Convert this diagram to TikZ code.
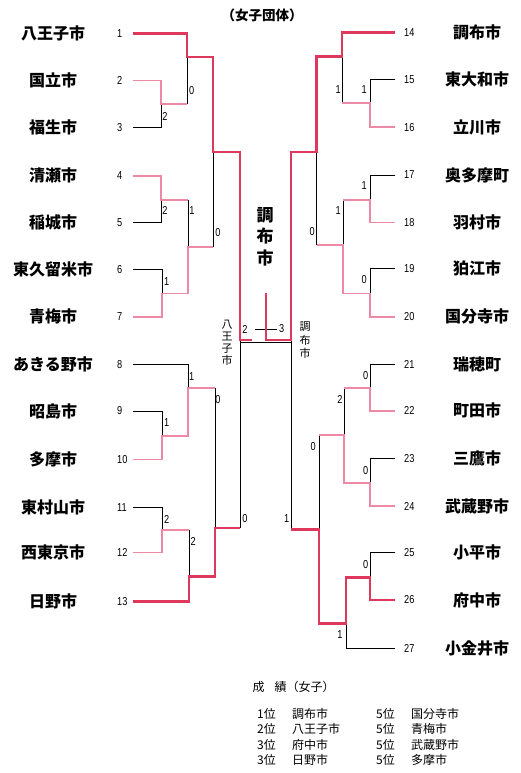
\documentclass[tikz,border=0pt]{standalone}
\usepackage{fontspec}
\setmainfont{Liberation Sans}
\newfontfamily\jp{Noto Sans CJK JP}
\newfontfamily\numf[FakeStretch=0.8]{Liberation Sans}
\definecolor{redc}{RGB}{222,56,92}
\definecolor{pinkc}{RGB}{236,138,166}
\begin{document}
\begin{tikzpicture}[x=1pt,y=-1pt,
 blk/.style={draw=black,line width=0.8pt},
 pnk/.style={draw=pinkc,line width=1.6pt},
 rd/.style={draw=redc,line width=2.6pt},
 nm/.style={font=\jp\bfseries\fontsize{16}{16}\selectfont, inner sep=0pt},
 num/.style={font=\numf\fontsize{11.5}{11.5}\selectfont, inner sep=0pt, anchor=west},
 sc/.style={font=\numf\fontsize{11.5}{11.5}\selectfont, inner sep=0pt},
 res/.style={font=\jp\fontsize{12}{12}\selectfont, inner sep=0pt, anchor=west},
 vt/.style={font=\jp\fontsize{11}{11}\selectfont, inner sep=0pt},
 big/.style={font=\jp\bfseries\fontsize{17}{17}\selectfont, inner sep=0pt},
]
\useasboundingbox[fill=white] (0,0) rectangle (520,773);

% title
\node[font=\jp\bfseries\fontsize{13.5}{13.5}\selectfont, inner sep=0pt] (title) at (262,15) {（女子団体）};

% left names and numbers
\foreach \n/\y/\t in {1/33.3/八王子市, 2/80.7/国立市, 3/127.7/福生市, 4/175.7/清瀬市, 5/222.3/稲城市, 6/269.3/東久留米市, 7/316.7/青梅市, 8/364.3/あきる野市, 9/411/昭島市, 10/459.3/多摩市, 11/507.3/東村山市, 12/552.3/西東京市, 13/601.7/日野市}{
  \node[nm] (L\n) at (53,\y) {\t};
  \node[num] (nL\n) at (117,\y) {\n};
}
% right names and numbers
\foreach \n/\y/\t in {14/32.7/調布市, 15/79.3/東大和市, 16/127.3/立川市, 17/175/奥多摩町, 18/222.3/羽村市, 19/268.3/狛江市, 20/316.7/国分寺市, 21/364.3/瑞穂町, 22/410.7/町田市, 23/458.3/三鷹市, 24/506/武蔵野市, 25/552.3/小平市, 26/600/府中市, 27/648.3/小金井市}{
  \node[nm] (R\n) at (477,\y) {\t};
  \node[num] (nR\n) at (404,\y) {\n};
}

% ---------- black lines ----------
% left
\draw[blk] (187,57)--(187,104);
\draw[blk] (133,127.7)--(161,127.7)--(161,104);
\draw[blk] (133,222.3)--(161,222.3)--(161,200);
\draw[blk] (188,200)--(188,247);
\draw[blk] (213,152)--(213,247);
\draw[blk] (133,269.3)--(162,269.3)--(162,293.3);
\draw[blk] (133,364.3)--(188,364.3)--(188,387.7);
\draw[blk] (133,411)--(162,411)--(162,435.7);
\draw[blk] (215,387.7)--(215,528);
\draw[blk] (133,507.3)--(162,507.3)--(162,530);
\draw[blk] (189,530)--(189,576.7);
\draw[blk] (240,340)--(240,528);
% right
\draw[blk] (342,56.7)--(342,103.3);
\draw[blk] (395,79.3)--(370,79.3)--(370,103.3);
\draw[blk] (316.7,152)--(316.7,245);
\draw[blk] (395,175)--(370,175)--(370,200);
\draw[blk] (343,200)--(343,245);
\draw[blk] (395,268.3)--(370,268.3)--(370,293.3);
\draw[blk] (291,340)--(291,529.3);
\draw[blk] (395,364.3)--(370,364.3)--(370,387.7);
\draw[blk] (344,387.7)--(344,435);
\draw[blk] (395,458.3)--(370,458.3)--(370,482.7);
\draw[blk] (319,435)--(319,529.3);
\draw[blk] (395,552.3)--(370,552.3)--(370,577.3);
\draw[blk] (346,623.3)--(346,648.3)--(395,648.3);
% final
\draw[blk] (240,342)--(291,342);
\draw[blk] (255,329)--(277,329);

% ---------- pink lines ----------
\draw[pnk] (133,80.7)--(161,80.7)--(161,104)--(187,104);
\draw[pnk] (133,175.7)--(161,175.7)--(161,200)--(188,200);
\draw[pnk] (133,316.7)--(162,316.7)--(162,293.3)--(188,293.3)--(188,247)--(213,247);
\draw[pnk] (133,459.3)--(162,459.3)--(162,435.7)--(188,435.7)--(188,387.7)--(215,387.7);
\draw[pnk] (133,552.3)--(162,552.3)--(162,530)--(189,530);
\draw[pnk] (395,127.3)--(370,127.3)--(370,103.3)--(342,103.3);
\draw[pnk] (395,222.3)--(370,222.3)--(370,200)--(343,200);
\draw[pnk] (395,316.7)--(370,316.7)--(370,293.3)--(343,293.3)--(343,245)--(316.7,245);
\draw[pnk] (395,410.7)--(370,410.7)--(370,387.7)--(344,387.7);
\draw[pnk] (395,506)--(370,506)--(370,482.7)--(344,482.7)--(344,435)--(319,435);

% ---------- red lines ----------
\draw[rd] (133,33.3)--(187,33.3)--(187,57)--(213,57)--(213,152)--(240,152)--(240,340)--(252,340);
\draw[rd] (133,601.7)--(189,601.7)--(189,576.7)--(215,576.7)--(215,528)--(240,528);
\draw[rd] (395,32.7)--(342,32.7)--(342,56.7)--(316.7,56.7)--(316.7,152)--(291,152)--(291,340)--(266,340)--(266,293);
\draw[rd] (395,600)--(370,600)--(370,577.3)--(346,577.3)--(346,623.3)--(319,623.3)--(319,529.3)--(291,529.3);

% ---------- scores ----------
\foreach \x/\y/\s [count=\i] in {191.7/91/0, 165/116.7/2, 165/210.7/2, 192/210.7/1, 218/233/0, 166.7/281.7/1, 191.7/376.7/1, 166.7/423/1, 218/400/0, 166.7/519/2, 193.3/541.7/2, 245/519/0, 245/329/2, 281.7/329/3, 338.3/90/1, 364.3/90/1, 364.3/185.7/1, 338.3/210.7/1, 312.3/231.7/0, 364.3/280/0, 286.7/519/1, 365.7/376/0, 340/399/2, 313.3/446.7/0, 365.7/471/0, 365.7/565/0, 340/635/1}{
  \node[sc] (s\i) at (\x,\y) {\s};
}

% ---------- center labels ----------
\node[big] (c1) at (265,215) {調};
\node[big] (c2) at (265,236.5) {布};
\node[big] (c3) at (265,258) {市};
\node[vt] (h1) at (227,325) {八};
\node[vt] (h2) at (227,336.7) {王};
\node[vt] (h3) at (227,348.3) {子};
\node[vt] (h4) at (227,360) {市};
\node[vt] (k1) at (305,326.7) {調};
\node[vt] (k2) at (305,340) {布};
\node[vt] (k3) at (305,353.3) {市};

% ---------- results ----------
\node[res] (rt) at (252.5,687) {成\hspace{10pt}績（女子）};
\foreach \y/\a/\b/\c/\d [count=\i] in {713.5/1位/調布市/5位/国分寺市, 729/2位/八王子市/5位/青梅市, 744.5/3位/府中市/5位/武蔵野市, 760/3位/日野市/5位/多摩市}{
  \node[res] (ra\i) at (257,\y) {\a};
  \node[res] (rb\i) at (292,\y) {\b};
  \node[res] (rc\i) at (376,\y) {\c};
  \node[res] (rd\i) at (411,\y) {\d};
}
\end{tikzpicture}
\end{document}
